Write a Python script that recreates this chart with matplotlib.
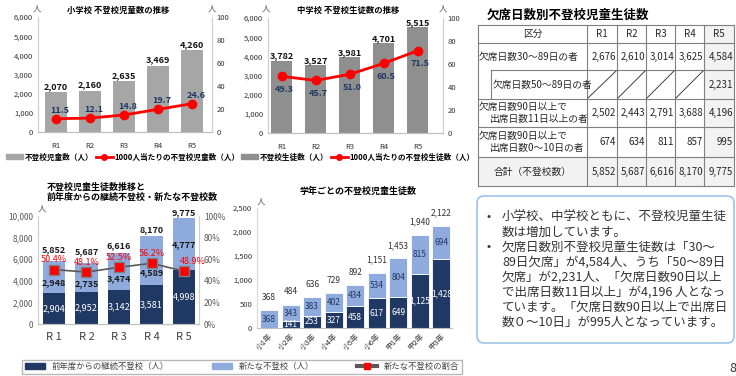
import matplotlib
matplotlib.use('Agg')
import matplotlib.pyplot as plt
from matplotlib.patches import Patch, FancyBboxPatch, Rectangle
from matplotlib.lines import Line2D
import numpy as np

plt.rcParams['font.family'] = ['Noto Sans CJK JP', 'DejaVu Sans']

# ---- data ----
years = ['R1', 'R2', 'R3', 'R4', 'R5']
elem_counts = [2070, 2160, 2635, 3469, 4260]
elem_rate = [11.5, 12.1, 14.8, 19.7, 24.6]
jhs_counts = [3782, 3527, 3981, 4701, 5515]
jhs_rate = [49.3, 45.7, 51.0, 60.5, 71.5]

trend_labels = ['R 1', 'R 2', 'R 3', 'R 4', 'R 5']
cont_counts = [2904, 2952, 3142, 3581, 4998]
new_counts = [2948, 2735, 3474, 4589, 4777]
new_ratio = [50.4, 48.1, 52.5, 56.2, 48.9]

grades = ['小1年', '小2年', '小3年', '小4年', '小5年', '小6年', '中1年', '中2年', '中3年']
grade_cont = [0, 141, 253, 327, 458, 617, 649, 1125, 1428]
grade_new = [368, 343, 383, 402, 434, 534, 804, 815, 694]

tbl_head = ['区分', 'R1', 'R2', 'R3', 'R4', 'R5']
tbl_30_89 = [2676, 2610, 3014, 3625, 4584]
tbl_50_89 = [None, None, None, None, 2231]
tbl_90_11 = [2502, 2443, 2791, 3688, 4196]
tbl_90_0 = [674, 634, 811, 857, 995]
tbl_total = [5852, 5687, 6616, 8170, 9775]

notes = [
    ['小学校、中学校ともに、不登校児童生徒', '数は増加しています。'],
    ['欠席日数別不登校児童生徒数は「30～', '89日欠席」が4,584人、うち「50～89日',
     '欠席」が2,231人、「欠席日数90日以上', 'で出席日数11日以上」が4,196 人となっ',
     'ています。「欠席日数90日以上で出席日', '数０～10日」が995人となっています。'],
]

NAVY = '#203864'
LIGHT = '#8FAADC'
W, H = 736, 376

fig = plt.figure(figsize=(W / 100, H / 100), dpi=100)


def px_axes(x0, y0, x1, y1):
    return fig.add_axes([x0 / W, 1 - y1 / H, (x1 - x0) / W, (y1 - y0) / H])


def ftext(x, y, s, **kw):
    return fig.text(x / W, 1 - y / H, s, **kw)


def fmt(v):
    return f'{v:,}'


def style_dual(ax, axr, ymax, ystep):
    ax.set_ylim(0, ymax)
    ax.set_yticks(range(0, ymax + 1, ystep))
    ax.set_yticklabels([fmt(v) for v in range(0, ymax + 1, ystep)])
    axr.set_ylim(0, 100)
    axr.set_yticks(range(0, 101, 20))
    for a in (ax, axr):
        a.spines['top'].set_visible(False)
        a.spines['left'].set_color('#d0d0d0')
        a.spines['right'].set_color('#d0d0d0')
        a.spines['bottom'].set_color('#bfbfbf')
        a.tick_params(length=0, labelsize=5.5, colors='#333333')
    ax.tick_params(axis='x', pad=7)


# ---- chart 1: elementary ----
x = np.arange(len(years))
ax1 = px_axes(38, 17, 212, 132)
ax1.bar(x, elem_counts, width=0.64, color='#a6a6a6')
ax1.set_xlim(-0.53, 4.59)
ax1.set_xticks(x)
ax1.set_xticklabels(years)
ax1r = ax1.twinx()
ax1r.plot(x, elem_rate, color='#ff0000', lw=2, marker='o', ms=6)
style_dual(ax1, ax1r, 6000, 1000)
for xi, v in zip(x, elem_counts):
    ax1.annotate(fmt(v), (xi, v), xytext=(0, 1), textcoords='offset points',
                 ha='center', va='bottom', fontsize=6.5, fontweight='bold', color='#111111')
for xi, v in zip(x, elem_rate):
    ax1r.annotate(f'{v:.1f}', (xi, v), xytext=(3, 3), textcoords='offset points',
                  ha='center', va='bottom', fontsize=6.5, fontweight='bold', color=NAVY)
ftext(118, 10, '小学校 不登校児童数の推移', ha='center', va='center', fontsize=6, fontweight='bold')
ftext(37, 9, '人', ha='center', va='center', fontsize=6, color='#555555')
ftext(212, 9, '人', ha='center', va='center', fontsize=6, color='#555555')
fig.legend(handles=[Patch(color='#a6a6a6'),
                    Line2D([], [], color='#ff0000', lw=2, marker='o', ms=4)],
           labels=['不登校児童数（人）', '1000人当たりの不登校児童数（人）'],
           loc='center left', bbox_to_anchor=(6 / W, 1 - 157 / H), ncol=2, frameon=False,
           prop={'size': 5.5, 'weight': 'bold'}, handlelength=2.2, handleheight=0.6,
           handletextpad=0.2, columnspacing=0.4, borderpad=0, borderaxespad=0)

# ---- chart 2: junior high ----
ax2 = px_axes(268, 18, 443, 133)
ax2.bar(x, jhs_counts, width=0.6, color='#8f8f8f')
ax2.set_xlim(-0.4, 4.75)
ax2.set_xticks(x)
ax2.set_xticklabels(years)
ax2r = ax2.twinx()
ax2r.plot(x, jhs_rate, color='#ff0000', lw=2, marker='o', ms=6)
style_dual(ax2, ax2r, 6000, 1000)
for xi, v in zip(x, jhs_counts):
    ax2.annotate(fmt(v), (xi, v), xytext=(0, 0), textcoords='offset points',
                 ha='center', va='bottom', fontsize=6.5, fontweight='bold', color='#111111')
for xi, v in zip(x, jhs_rate):
    ax2r.annotate(f'{v:.1f}', (xi, v), xytext=(2, -6), textcoords='offset points',
                  ha='center', va='top', fontsize=6.5, fontweight='bold', color=NAVY)
ftext(348, 10, '中学校 不登校生徒数の推移', ha='center', va='center', fontsize=6, fontweight='bold')
ftext(266, 9, '人', ha='center', va='center', fontsize=6, color='#555555')
ftext(443, 9, '人', ha='center', va='center', fontsize=6, color='#555555')
fig.legend(handles=[Patch(color='#8f8f8f'),
                    Line2D([], [], color='#ff0000', lw=2, marker='o', ms=4)],
           labels=['不登校生徒数（人）', '1000人当たりの不登校生徒数（人）'],
           loc='center left', bbox_to_anchor=(241 / W, 1 - 157 / H), ncol=2, frameon=False,
           prop={'size': 5.5, 'weight': 'bold'}, handlelength=2.2, handleheight=0.6,
           handletextpad=0.2, columnspacing=0.4, borderpad=0, borderaxespad=0)

# ---- chart 3: continuing / new ----
ax3 = px_axes(38, 216, 199, 324)
totals = [c + n for c, n in zip(cont_counts, new_counts)]
ax3.bar(x, cont_counts, width=0.68, color=NAVY)
ax3.bar(x, new_counts, width=0.68, bottom=cont_counts, color=LIGHT)
ax3.set_xlim(-0.49, 4.46)
ax3.set_xticks(x)
ax3.set_xticklabels(trend_labels)
ax3r = ax3.twinx()
ax3r.plot(x, new_ratio, color='#595959', lw=1.2, marker='s', ms=7,
          markerfacecolor='#ff0000', markeredgecolor='#7f7f7f')
style_dual(ax3, ax3r, 10000, 2000)
ax3r.set_yticklabels([f'{v}%' for v in range(0, 101, 20)])
for a in (ax3, ax3r):
    a.tick_params(labelsize=6, colors='#595959')
ax3.tick_params(axis='x', labelsize=8, colors='#404040', pad=6)
# label placement inside the light segment and above the bars (kept clear of the % labels)
new_pos = [0.3, 0.3, 0.3, 0.25, 0.5]
total_lift = [5, 5, 2, 1, 1]
for i, (xi, c, n, t) in enumerate(zip(x, cont_counts, new_counts, totals)):
    ax3.text(xi, c / 2, fmt(c), ha='center', va='center', fontsize=6.5, color='white')
    ax3.text(xi, c + n * new_pos[i], fmt(n), ha='center', va='center', fontsize=6.5,
             fontweight='bold', color='#1a1a1a')
    ax3.annotate(fmt(t), (xi, t), xytext=(0, total_lift[i]), textcoords='offset points',
                 ha='center', va='bottom', fontsize=6.5, fontweight='bold', color='#1a1a1a')
for i, (xi, v) in enumerate(zip(x, new_ratio)):
    off = (6, 7) if i == len(x) - 1 else (0, 7)
    ax3r.annotate(f'{v}%', (xi, v), xytext=off, textcoords='offset points',
                  ha='center', va='center', fontsize=6.5, color='#ff0000')
ftext(47, 187, '不登校児童生徒数推移と', ha='left', va='center', fontsize=6.5, fontweight='bold')
ftext(47, 197, '前年度からの継続不登校・新たな不登校数', ha='left', va='center',
      fontsize=6.5, fontweight='bold')
ftext(42, 209, '人', ha='center', va='center', fontsize=6, color='#555555')

# ---- chart 4: by grade ----
xg = np.arange(len(grades))
ax4 = px_axes(257, 208, 452, 328)
gtot = [c + n for c, n in zip(grade_cont, grade_new)]
ax4.bar(xg, grade_cont, width=0.84, color=NAVY, edgecolor='white', linewidth=0.6)
ax4.bar(xg, grade_new, width=0.84, bottom=grade_cont, color=LIGHT, edgecolor='white', linewidth=0.6)
ax4.set_xlim(-0.56, 8.5)
ax4.set_ylim(0, 2500)
ax4.set_yticks(range(0, 2501, 500))
ax4.set_yticklabels([fmt(v) for v in range(0, 2501, 500)])
ax4.set_xticks(xg)
ax4.set_xticklabels(grades, rotation=45, ha='right', rotation_mode='anchor')
for s in ('top', 'right'):
    ax4.spines[s].set_visible(False)
ax4.spines['left'].set_color('#d9d9d9')
ax4.spines['bottom'].set_color('#bfbfbf')
ax4.tick_params(length=0, labelsize=5.5, colors='#333333')
ax4.tick_params(axis='x', labelsize=5.5, pad=3)
for xi, c, n, t in zip(xg, grade_cont, grade_new, gtot):
    if c > 0:
        ax4.text(xi, c / 2, fmt(c), ha='center', va='center', fontsize=6, color='white')
    ax4.text(xi, c + n / 2, fmt(n), ha='center', va='center', fontsize=6, color=NAVY)
    ax4.annotate(fmt(t), (xi, t), xytext=(0, 6), textcoords='offset points',
                 ha='center', va='bottom', fontsize=6, color='#333333')
ftext(358, 191, '学年ごとの不登校児童生徒数', ha='center', va='center', fontsize=6.5, fontweight='bold')
ftext(261, 202, '人', ha='center', va='center', fontsize=6, color='#555555')

# shared legend for the lower charts
leg = fig.legend(handles=[Patch(color=NAVY), Patch(color=LIGHT),
                          Line2D([], [], color='#595959', lw=3, marker='s', ms=5,
                                 markerfacecolor='#ff0000', markeredgecolor='#ff0000')],
                 labels=['前年度からの継続不登校（人）', '新たな不登校（人）', '新たな不登校の割合'],
                 loc='center', bbox_to_anchor=(22 / W, 1 - 376 / H, 440 / W, 19 / H),
                 mode='expand', ncol=3, fancybox=False, edgecolor='#a6a6a6',
                 prop={'size': 6}, handlelength=2.5, handleheight=0.6,
                 handletextpad=0.8, borderpad=0.3, borderaxespad=0)
for t in leg.get_texts():
    t.set_color('#404040')

# ---- overlay: table and note box ----
ov = fig.add_axes([0, 0, 1, 1])
ov.set_xlim(0, W)
ov.set_ylim(H, 0)
ov.axis('off')

ov.text(487, 15, '欠席日数別不登校児童生徒数', ha='left', va='center', fontsize=9, fontweight='bold')
cx = [478, 587, 617, 646, 675, 704, 734]
ry = [25, 43, 70, 99, 127, 157, 186]
shade = '#f2f2f2'
ov.add_patch(Rectangle((cx[5], ry[0]), cx[6] - cx[5], ry[5] - ry[0], color=shade, lw=0))
ov.add_patch(Rectangle((cx[0], ry[5]), cx[6] - cx[0], ry[6] - ry[5], color=shade, lw=0))
lc = '#7f7f7f'
for yy in (ry[0], ry[1], ry[3], ry[4], ry[5], ry[6]):
    ov.plot([cx[0], cx[6]], [yy, yy], color=lc, lw=0.8)
ov.plot([491, cx[6]], [ry[2], ry[2]], color=lc, lw=0.8)
ov.plot([491, 491], [ry[2], ry[3]], color=lc, lw=0.8)
ov.plot([cx[0], cx[0]], [ry[0], ry[6]], color=lc, lw=0.8)
for xx in cx[1:]:
    ov.plot([xx, xx], [ry[0], ry[6]], color=lc, lw=0.8)
for j in range(4):
    ov.plot([cx[j + 1] + 1, cx[j + 2] - 1], [ry[3] - 1, ry[2] + 1], color='#404040', lw=0.7)

tfs = 7
tc = '#262626'
for j, h in enumerate(tbl_head):
    ov.text((cx[j] + cx[j + 1]) / 2, (ry[0] + ry[1]) / 2, h, ha='center', va='center',
            fontsize=tfs, color=tc)
ov.text(479, (ry[1] + ry[2]) / 2, '欠席日数30～89日の者', ha='left', va='center', fontsize=tfs, color=tc)
ov.text(493, (ry[2] + ry[3]) / 2, '欠席日数50～89日の者', ha='left', va='center', fontsize=tfs, color=tc)
ov.text(479, ry[3] + 8, '欠席日数90日以上で', ha='left', va='center', fontsize=tfs, color=tc)
ov.text(490, ry[3] + 20, '出席日数11日以上の者', ha='left', va='center', fontsize=tfs, color=tc)
ov.text(479, ry[4] + 9, '欠席日数90日以上で', ha='left', va='center', fontsize=tfs, color=tc)
ov.text(490, ry[4] + 21, '出席日数0～10日の者', ha='left', va='center', fontsize=tfs, color=tc)
ov.text((cx[0] + cx[1]) / 2, (ry[5] + ry[6]) / 2, '合計（不登校数）', ha='center', va='center',
        fontsize=tfs, color=tc)
rows = [(tbl_30_89, (ry[1] + ry[2]) / 2), (tbl_50_89, (ry[2] + ry[3]) / 2),
        (tbl_90_11, (ry[3] + ry[4]) / 2), (tbl_90_0, (ry[4] + ry[5]) / 2),
        (tbl_total, (ry[5] + ry[6]) / 2)]
for vals, yy in rows:
    for j, v in enumerate(vals):
        if v is None:
            continue
        ov.text(cx[j + 2] - 1, yy, fmt(v), ha='right', va='center', fontsize=tfs, color=tc)

ov.add_patch(FancyBboxPatch((477, 196), 257, 147, boxstyle='round,pad=0,rounding_size=7',
                            facecolor='white', edgecolor='#9dc3e6', lw=1.2))
ly = 217
for para in notes:
    ov.text(489, ly, '•', ha='center', va='center', fontsize=9, color='#333333')
    for line in para:
        ov.text(502, ly, line, ha='left', va='center', fontsize=9, color='#333333')
        ly += 15
ov.text(729, 369, '8', ha='left', va='center', fontsize=9, color='#333333')

fig.savefig('out.png', dpi=100)
